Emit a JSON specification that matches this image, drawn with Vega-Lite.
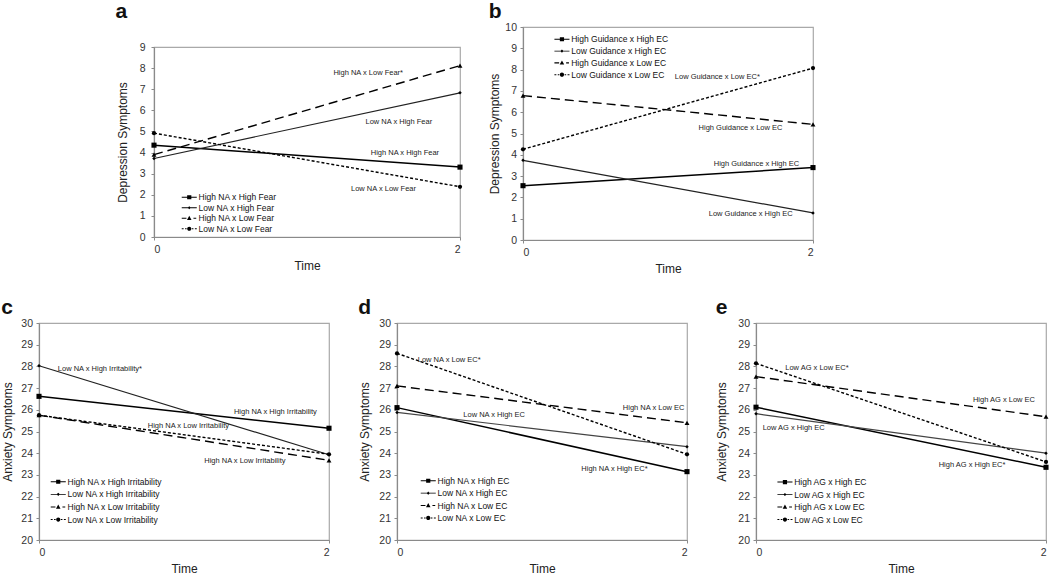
{
  "$schema": "https://vega.github.io/schema/vega-lite/v6.json",
  "padding": {"left": 0, "top": 0, "right": 0, "bottom": 0},
  "background": "white",
  "datasets": {
    "pts": [
      {"p": "a", "k": 1, "s": "High NA x High Fear", "t": 0, "v": 4.35}, {"p": "a", "k": 1, "s": "High NA x High Fear", "t": 2, "v": 3.31},
      {"p": "a", "k": 2, "s": "Low NA x High Fear", "t": 0, "v": 3.72}, {"p": "a", "k": 2, "s": "Low NA x High Fear", "t": 2, "v": 6.83},
      {"p": "a", "k": 3, "s": "High NA x Low Fear", "t": 0, "v": 3.9}, {"p": "a", "k": 3, "s": "High NA x Low Fear", "t": 2, "v": 8.12},
      {"p": "a", "k": 4, "s": "Low NA x Low Fear", "t": 0, "v": 4.92}, {"p": "a", "k": 4, "s": "Low NA x Low Fear", "t": 2, "v": 2.38},
      {"p": "b", "k": 1, "s": "High Guidance x High EC", "t": 0, "v": 2.55}, {"p": "b", "k": 1, "s": "High Guidance x High EC", "t": 2, "v": 3.4},
      {"p": "b", "k": 2, "s": "Low Guidance x High EC", "t": 0, "v": 3.74}, {"p": "b", "k": 2, "s": "Low Guidance x High EC", "t": 2, "v": 1.27},
      {"p": "b", "k": 3, "s": "High Guidance x Low EC", "t": 0, "v": 6.78}, {"p": "b", "k": 3, "s": "High Guidance x Low EC", "t": 2, "v": 5.43},
      {"p": "b", "k": 4, "s": "Low Guidance x Low EC", "t": 0, "v": 4.26}, {"p": "b", "k": 4, "s": "Low Guidance x Low EC", "t": 2, "v": 8.07},
      {"p": "c", "k": 1, "s": "High NA x High Irritability", "t": 0, "v": 26.62}, {"p": "c", "k": 1, "s": "High NA x High Irritability", "t": 2, "v": 25.15},
      {"p": "c", "k": 2, "s": "Low NA x High Irritability", "t": 0, "v": 28.03}, {"p": "c", "k": 2, "s": "Low NA x High Irritability", "t": 2, "v": 23.93},
      {"p": "c", "k": 3, "s": "High NA x Low Irritability", "t": 0, "v": 25.75}, {"p": "c", "k": 3, "s": "High NA x Low Irritability", "t": 2, "v": 23.67},
      {"p": "c", "k": 4, "s": "Low NA x Low Irritability", "t": 0, "v": 25.75}, {"p": "c", "k": 4, "s": "Low NA x Low Irritability", "t": 2, "v": 23.95},
      {"p": "d", "k": 1, "s": "High NA x High EC", "t": 0, "v": 26.1}, {"p": "d", "k": 1, "s": "High NA x High EC", "t": 2, "v": 23.15},
      {"p": "d", "k": 2, "s": "Low NA x High EC", "t": 0, "v": 25.88}, {"p": "d", "k": 2, "s": "Low NA x High EC", "t": 2, "v": 24.3},
      {"p": "d", "k": 3, "s": "High NA x Low EC", "t": 0, "v": 27.1}, {"p": "d", "k": 3, "s": "High NA x Low EC", "t": 2, "v": 25.4},
      {"p": "d", "k": 4, "s": "Low NA x Low EC", "t": 0, "v": 28.6}, {"p": "d", "k": 4, "s": "Low NA x Low EC", "t": 2, "v": 23.95},
      {"p": "e", "k": 1, "s": "High AG x High EC", "t": 0, "v": 26.12}, {"p": "e", "k": 1, "s": "High AG x High EC", "t": 2, "v": 23.35},
      {"p": "e", "k": 2, "s": "Low AG x High EC", "t": 0, "v": 25.82}, {"p": "e", "k": 2, "s": "Low AG x High EC", "t": 2, "v": 24.0},
      {"p": "e", "k": 3, "s": "High AG x Low EC", "t": 0, "v": 27.53}, {"p": "e", "k": 3, "s": "High AG x Low EC", "t": 2, "v": 25.68},
      {"p": "e", "k": 4, "s": "Low AG x Low EC", "t": 0, "v": 28.14}, {"p": "e", "k": 4, "s": "Low AG x Low EC", "t": 2, "v": 23.6}
    ],
    "notes": [
      {"p": "a", "label": "High NA x Low Fear*", "t": 1.40, "v": 7.78},
      {"p": "a", "label": "Low NA x High Fear", "t": 1.60, "v": 5.44},
      {"p": "a", "label": "High NA x High Fear", "t": 1.64, "v": 3.97},
      {"p": "a", "label": "Low NA x Low Fear", "t": 1.50, "v": 2.29},
      {"p": "b", "label": "Low Guidance x Low EC*", "t": 1.34, "v": 7.65},
      {"p": "b", "label": "High Guidance x Low EC", "t": 1.50, "v": 5.24},
      {"p": "b", "label": "High Guidance x High EC", "t": 1.61, "v": 3.59},
      {"p": "b", "label": "Low Guidance x High EC", "t": 1.57, "v": 1.22},
      {"p": "c", "label": "Low NA x High Irritability*", "t": 0.42, "v": 27.87},
      {"p": "c", "label": "High NA x High Irritability", "t": 1.63, "v": 25.91},
      {"p": "c", "label": "High NA x Low Irritability", "t": 1.03, "v": 25.25},
      {"p": "c", "label": "High NA x Low Irritability", "t": 1.42, "v": 23.64},
      {"p": "d", "label": "Low NA x Low EC*", "t": 0.36, "v": 28.31},
      {"p": "d", "label": "High NA x Low EC", "t": 1.77, "v": 26.09},
      {"p": "d", "label": "Low NA x High EC", "t": 0.67, "v": 25.75},
      {"p": "d", "label": "High NA x High EC*", "t": 1.50, "v": 23.27},
      {"p": "e", "label": "Low AG x Low EC*", "t": 0.42, "v": 27.94},
      {"p": "e", "label": "High AG x Low EC", "t": 1.71, "v": 26.43},
      {"p": "e", "label": "Low AG x High EC", "t": 0.26, "v": 25.16},
      {"p": "e", "label": "High AG x High EC*", "t": 1.49, "v": 23.45}
    ]
  },
  "resolve": {"scale": {"x": "independent", "y": "independent", "shape": "independent"}, "legend": {"shape": "independent"}},
  "spacing": 20,
  "vconcat": [
    {
      "spacing": 24,
      "resolve": {"scale": {"x": "independent", "y": "independent", "shape": "independent"}, "legend": {"shape": "independent"}},
      "hconcat": [
        {"width": 52, "height": 10, "view": {"stroke": null}, "data": {"values": [{}]}, "mark": {"type": "point", "opacity": 0}, "encoding": {}},
        {
          "title": {"text": "a", "offset": 5},
          "spacing": 0,
          "resolve": {"scale": {"x": "independent", "y": "independent", "shape": "independent"}, "legend": {"shape": "independent"}},
          "vconcat": [
            {"width": 10, "height": 14, "view": {"stroke": null}, "data": {"values": [{}]}, "mark": {"type": "point", "opacity": 0}, "encoding": {}},
            {
              "width": 306, "height": 190,
              "data": {"name": "pts"},
              "transform": [{"filter": "datum.p === 'a'"}],
              "encoding": {
                "x": {"field": "t", "type": "quantitative", "scale": {"domain": [0, 2]}, "axis": {"values": [0, 1, 2], "tickCount": 3, "format": "d", "title": "Time"}},
                "y": {"field": "v", "type": "quantitative", "scale": {"domain": [0, 9], "nice": false, "zero": false}, "axis": {"values": [0,1,2,3,4,5,6,7,8,9], "tickCount": 10, "format": "d", "title": "Depression Symptoms", "labelPadding": 6, "titlePadding": 10}}
              },
              "layer": [
                {"transform": [{"filter": "datum.k === 1"}], "mark": {"type": "line", "strokeWidth": 1.5, "color": "#000", "point": {"shape": "square", "size": 26, "filled": true, "color": "#000"}}},
                {"transform": [{"filter": "datum.k === 2"}], "mark": {"type": "line", "strokeWidth": 1.2, "color": "#222", "point": {"shape": "diamond", "size": 12, "filled": true, "color": "#000"}}},
                {"transform": [{"filter": "datum.k === 3"}], "mark": {"type": "line", "strokeWidth": 1.4, "color": "#000", "strokeDash": [9, 5], "point": {"shape": "triangle-up", "size": 24, "filled": true, "color": "#000"}}},
                {"transform": [{"filter": "datum.k === 4"}], "mark": {"type": "line", "strokeWidth": 1.4, "color": "#000", "strokeDash": [3, 2], "point": {"shape": "circle", "size": 18, "filled": true, "color": "#000"}}},
                {"transform": [{"filter": "datum.k < 0"}],
                 "mark": {"type": "point", "filled": true, "color": "#000", "opacity": 1},
                 "encoding": {
                   "shape": {"field": "s", "type": "nominal", "scale": {"domain": ["High NA x High Fear", "Low NA x High Fear", "High NA x Low Fear", "Low NA x Low Fear"], "range": ["M-2.15,-0.15H2.15V0.15H-2.15ZM-0.6,-0.6H0.6V0.6H-0.6Z", "M-2.15,-0.12H2.15V0.12H-2.15ZM0,-0.45L0.45,0L0,0.45L-0.45,0Z", "M-2.15,-0.15H-0.8V0.15H-2.15ZM0,-0.7L0.65,0.5H-0.65ZM1.2,-0.15H2.0V0.15H1.2Z", "M-2.15,-0.15H-1.6V0.15H-2.15ZM-1.2,-0.15H-0.75V0.15H-1.2ZM-0.6,0A0.6,0.6,0,1,1,0.6,0A0.6,0.6,0,1,1,-0.6,0ZM0.75,-0.15H1.2V0.15H0.75ZM1.6,-0.15H2.15V0.15H1.6Z"]},
                     "legend": {"title": null, "orient": "none", "legendX": 31, "legendY": 146, "rowPadding": 1.5}}
                 }},
                {"data": {"name": "notes"}, "transform": [{"filter": "datum.p === 'a'"}],
                 "mark": {"type": "text", "fontSize": 7.5, "color": "#222", "clip": true},
                 "encoding": {"text": {"field": "label"}}}
              ]
            }
          ]
        },
        {
          "title": {"text": "b", "offset": 0},
          "width": 290, "height": 213,
          "data": {"name": "pts"},
          "transform": [{"filter": "datum.p === 'b'"}],
          "encoding": {
            "x": {"field": "t", "type": "quantitative", "scale": {"domain": [0, 2]}, "axis": {"values": [0, 1, 2], "tickCount": 3, "format": "d", "title": "Time"}},
            "y": {"field": "v", "type": "quantitative", "scale": {"domain": [0, 10], "nice": false, "zero": false}, "axis": {"values": [0,1,2,3,4,5,6,7,8,9,10], "tickCount": 11, "format": "d", "title": "Depression Symptoms", "titlePadding": 3}}
          },
          "layer": [
            {"transform": [{"filter": "datum.k === 1"}], "mark": {"type": "line", "strokeWidth": 1.5, "color": "#000", "point": {"shape": "square", "size": 26, "filled": true, "color": "#000"}}},
            {"transform": [{"filter": "datum.k === 2"}], "mark": {"type": "line", "strokeWidth": 1.2, "color": "#222", "point": {"shape": "diamond", "size": 12, "filled": true, "color": "#000"}}},
            {"transform": [{"filter": "datum.k === 3"}], "mark": {"type": "line", "strokeWidth": 1.4, "color": "#000", "strokeDash": [9, 5], "point": {"shape": "triangle-up", "size": 24, "filled": true, "color": "#000"}}},
            {"transform": [{"filter": "datum.k === 4"}], "mark": {"type": "line", "strokeWidth": 1.4, "color": "#000", "strokeDash": [3, 2], "point": {"shape": "circle", "size": 18, "filled": true, "color": "#000"}}},
            {"transform": [{"filter": "datum.k < 0"}],
             "mark": {"type": "point", "filled": true, "color": "#000", "opacity": 1},
             "encoding": {
               "shape": {"field": "s", "type": "nominal", "scale": {"domain": ["High Guidance x High EC", "Low Guidance x High EC", "High Guidance x Low EC", "Low Guidance x Low EC"], "range": ["M-2.15,-0.15H2.15V0.15H-2.15ZM-0.6,-0.6H0.6V0.6H-0.6Z", "M-2.15,-0.12H2.15V0.12H-2.15ZM0,-0.45L0.45,0L0,0.45L-0.45,0Z", "M-2.15,-0.15H-0.8V0.15H-2.15ZM0,-0.7L0.65,0.5H-0.65ZM1.2,-0.15H2.0V0.15H1.2Z", "M-2.15,-0.15H-1.6V0.15H-2.15ZM-1.2,-0.15H-0.75V0.15H-1.2ZM-0.6,0A0.6,0.6,0,1,1,0.6,0A0.6,0.6,0,1,1,-0.6,0ZM0.75,-0.15H1.2V0.15H0.75ZM1.6,-0.15H2.15V0.15H1.6Z"]},
                 "legend": {"title": null, "orient": "none", "legendX": 34.7, "legendY": 8, "rowPadding": 2.8}}
             }},
            {"data": {"name": "notes"}, "transform": [{"filter": "datum.p === 'b'"}],
             "mark": {"type": "text", "fontSize": 7.5, "color": "#222", "clip": true},
             "encoding": {"text": {"field": "label"}}}
          ]
        }
      ]
    },
    {
      "spacing": 24,
      "resolve": {"scale": {"x": "independent", "y": "independent", "shape": "independent"}, "legend": {"shape": "independent"}},
      "hconcat": [
        {
          "title": {"text": "c", "offset": 0},
          "width": 290, "height": 217,
          "data": {"name": "pts"},
          "transform": [{"filter": "datum.p === 'c'"}],
          "encoding": {
            "x": {"field": "t", "type": "quantitative", "scale": {"domain": [0, 2]}, "axis": {"values": [0, 1, 2], "tickCount": 3, "format": "d", "title": "Time"}},
            "y": {"field": "v", "type": "quantitative", "scale": {"domain": [20, 30], "nice": false, "zero": false}, "axis": {"values": [20,21,22,23,24,25,26,27,28,29,30], "tickCount": 11, "format": "d", "title": "Anxiety Symptoms", "titlePadding": 6.5}}
          },
          "layer": [
            {"transform": [{"filter": "datum.k === 1"}], "mark": {"type": "line", "strokeWidth": 1.5, "color": "#000", "point": {"shape": "square", "size": 26, "filled": true, "color": "#000"}}},
            {"transform": [{"filter": "datum.k === 2"}], "mark": {"type": "line", "strokeWidth": 1.2, "color": "#222", "point": {"shape": "diamond", "size": 12, "filled": true, "color": "#000"}}},
            {"transform": [{"filter": "datum.k === 3"}], "mark": {"type": "line", "strokeWidth": 1.4, "color": "#000", "strokeDash": [9, 5], "point": {"shape": "triangle-up", "size": 24, "filled": true, "color": "#000"}}},
            {"transform": [{"filter": "datum.k === 4"}], "mark": {"type": "line", "strokeWidth": 1.4, "color": "#000", "strokeDash": [3, 2], "point": {"shape": "circle", "size": 18, "filled": true, "color": "#000"}}},
            {"transform": [{"filter": "datum.k < 0"}],
             "mark": {"type": "point", "filled": true, "color": "#000", "opacity": 1},
             "encoding": {
               "shape": {"field": "s", "type": "nominal", "scale": {"domain": ["High NA x High Irritability", "Low NA x High Irritability", "High NA x Low Irritability", "Low NA x Low Irritability"], "range": ["M-2.15,-0.15H2.15V0.15H-2.15ZM-0.6,-0.6H0.6V0.6H-0.6Z", "M-2.15,-0.12H2.15V0.12H-2.15ZM0,-0.45L0.45,0L0,0.45L-0.45,0Z", "M-2.15,-0.15H-0.8V0.15H-2.15ZM0,-0.7L0.65,0.5H-0.65ZM1.2,-0.15H2.0V0.15H1.2Z", "M-2.15,-0.15H-1.6V0.15H-2.15ZM-1.2,-0.15H-0.75V0.15H-1.2ZM-0.6,0A0.6,0.6,0,1,1,0.6,0A0.6,0.6,0,1,1,-0.6,0ZM0.75,-0.15H1.2V0.15H0.75ZM1.6,-0.15H2.15V0.15H1.6Z"]},
                 "legend": {"title": null, "orient": "none", "legendX": 15, "legendY": 154.5, "rowPadding": 3.6}}
             }},
            {"data": {"name": "notes"}, "transform": [{"filter": "datum.p === 'c'"}],
             "mark": {"type": "text", "fontSize": 7.5, "color": "#222", "clip": true},
             "encoding": {"text": {"field": "label"}}}
          ]
        },
        {
          "title": {"text": "d", "offset": 0},
          "width": 290, "height": 217,
          "data": {"name": "pts"},
          "transform": [{"filter": "datum.p === 'd'"}],
          "encoding": {
            "x": {"field": "t", "type": "quantitative", "scale": {"domain": [0, 2]}, "axis": {"values": [0, 1, 2], "tickCount": 3, "format": "d", "title": "Time"}},
            "y": {"field": "v", "type": "quantitative", "scale": {"domain": [20, 30], "nice": false, "zero": false}, "axis": {"values": [20,21,22,23,24,25,26,27,28,29,30], "tickCount": 11, "format": "d", "title": "Anxiety Symptoms", "titlePadding": 7.5}}
          },
          "layer": [
            {"transform": [{"filter": "datum.k === 1"}], "mark": {"type": "line", "strokeWidth": 1.5, "color": "#000", "point": {"shape": "square", "size": 26, "filled": true, "color": "#000"}}},
            {"transform": [{"filter": "datum.k === 2"}], "mark": {"type": "line", "strokeWidth": 1.2, "color": "#444", "point": {"shape": "diamond", "size": 12, "filled": true, "color": "#000"}}},
            {"transform": [{"filter": "datum.k === 3"}], "mark": {"type": "line", "strokeWidth": 1.4, "color": "#000", "strokeDash": [9, 5], "point": {"shape": "triangle-up", "size": 24, "filled": true, "color": "#000"}}},
            {"transform": [{"filter": "datum.k === 4"}], "mark": {"type": "line", "strokeWidth": 1.4, "color": "#000", "strokeDash": [3, 2], "point": {"shape": "circle", "size": 18, "filled": true, "color": "#000"}}},
            {"transform": [{"filter": "datum.k < 0"}],
             "mark": {"type": "point", "filled": true, "color": "#000", "opacity": 1},
             "encoding": {
               "shape": {"field": "s", "type": "nominal", "scale": {"domain": ["High NA x High EC", "Low NA x High EC", "High NA x Low EC", "Low NA x Low EC"], "range": ["M-2.15,-0.15H2.15V0.15H-2.15ZM-0.6,-0.6H0.6V0.6H-0.6Z", "M-2.15,-0.12H2.15V0.12H-2.15ZM0,-0.45L0.45,0L0,0.45L-0.45,0Z", "M-2.15,-0.15H-0.8V0.15H-2.15ZM0,-0.7L0.65,0.5H-0.65ZM1.2,-0.15H2.0V0.15H1.2Z", "M-2.15,-0.15H-1.6V0.15H-2.15ZM-1.2,-0.15H-0.75V0.15H-1.2ZM-0.6,0A0.6,0.6,0,1,1,0.6,0A0.6,0.6,0,1,1,-0.6,0ZM0.75,-0.15H1.2V0.15H0.75ZM1.6,-0.15H2.15V0.15H1.6Z"]},
                 "legend": {"title": null, "orient": "none", "legendX": 27, "legendY": 153.5, "rowPadding": 3.4}}
             }},
            {"data": {"name": "notes"}, "transform": [{"filter": "datum.p === 'd'"}],
             "mark": {"type": "text", "fontSize": 7.5, "color": "#222", "clip": true},
             "encoding": {"text": {"field": "label"}}}
          ]
        },
        {
          "title": {"text": "e", "offset": 0},
          "width": 290, "height": 217,
          "data": {"name": "pts"},
          "transform": [{"filter": "datum.p === 'e'"}],
          "encoding": {
            "x": {"field": "t", "type": "quantitative", "scale": {"domain": [0, 2]}, "axis": {"values": [0, 1, 2], "tickCount": 3, "format": "d", "title": "Time"}},
            "y": {"field": "v", "type": "quantitative", "scale": {"domain": [20, 30], "nice": false, "zero": false}, "axis": {"values": [20,21,22,23,24,25,26,27,28,29,30], "tickCount": 11, "format": "d", "title": "Anxiety Symptoms", "titlePadding": 9}}
          },
          "layer": [
            {"transform": [{"filter": "datum.k === 1"}], "mark": {"type": "line", "strokeWidth": 1.5, "color": "#000", "point": {"shape": "square", "size": 26, "filled": true, "color": "#000"}}},
            {"transform": [{"filter": "datum.k === 2"}], "mark": {"type": "line", "strokeWidth": 1.2, "color": "#444", "point": {"shape": "diamond", "size": 12, "filled": true, "color": "#000"}}},
            {"transform": [{"filter": "datum.k === 3"}], "mark": {"type": "line", "strokeWidth": 1.4, "color": "#000", "strokeDash": [9, 5], "point": {"shape": "triangle-up", "size": 24, "filled": true, "color": "#000"}}},
            {"transform": [{"filter": "datum.k === 4"}], "mark": {"type": "line", "strokeWidth": 1.4, "color": "#000", "strokeDash": [3, 2], "point": {"shape": "circle", "size": 18, "filled": true, "color": "#000"}}},
            {"transform": [{"filter": "datum.k < 0"}],
             "mark": {"type": "point", "filled": true, "color": "#000", "opacity": 1},
             "encoding": {
               "shape": {"field": "s", "type": "nominal", "scale": {"domain": ["High AG x High EC", "Low AG x High EC", "High AG x Low EC", "Low AG x Low EC"], "range": ["M-2.15,-0.15H2.15V0.15H-2.15ZM-0.6,-0.6H0.6V0.6H-0.6Z", "M-2.15,-0.12H2.15V0.12H-2.15ZM0,-0.45L0.45,0L0,0.45L-0.45,0Z", "M-2.15,-0.15H-0.8V0.15H-2.15ZM0,-0.7L0.65,0.5H-0.65ZM1.2,-0.15H2.0V0.15H1.2Z", "M-2.15,-0.15H-1.6V0.15H-2.15ZM-1.2,-0.15H-0.75V0.15H-1.2ZM-0.6,0A0.6,0.6,0,1,1,0.6,0A0.6,0.6,0,1,1,-0.6,0ZM0.75,-0.15H1.2V0.15H0.75ZM1.6,-0.15H2.15V0.15H1.6Z"]},
                 "legend": {"title": null, "orient": "none", "legendX": 24.7, "legendY": 154.8, "rowPadding": 3.5}}
             }},
            {"data": {"name": "notes"}, "transform": [{"filter": "datum.p === 'e'"}],
             "mark": {"type": "text", "fontSize": 7.5, "color": "#222", "clip": true},
             "encoding": {"text": {"field": "label"}}}
          ]
        }
      ]
    }
  ],
  "config": {
    "font": "Liberation Sans",
    "view": {"stroke": "#a9a9a9", "strokeWidth": 1.2},
    "axis": {"grid": false, "labelOverlap": false, "domainColor": "#8a8a8a", "domainWidth": 1.2, "tickColor": "#8a8a8a", "tickSize": 3, "labelFont": "Liberation Sans", "labelFontSize": 10.5, "labelColor": "#333", "titleFont": "Liberation Sans", "titleFontSize": 12, "titleFontWeight": "normal", "titleColor": "#222", "labelPadding": 3.5},
    "axisX": {"labelPadding": 4, "titlePadding": 6, "labelAngle": 0},
    "legend": {"labelFont": "Liberation Sans", "symbolSize": 49, "labelFontSize": 8.5, "labelOffset": 5, "padding": 0, "labelColor": "#111", "symbolFillColor": "#000", "symbolStrokeWidth": 0},
    "text": {"font": "Liberation Sans"},
    "title": {"fontSize": 21, "fontWeight": "bold", "anchor": "start", "frame": "bounds", "baseline": "bottom", "color": "#111", "font": "Liberation Sans"}
  }
}
